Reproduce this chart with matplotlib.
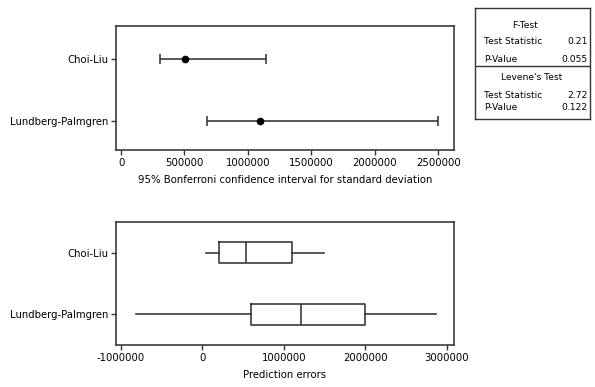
import matplotlib
matplotlib.use('Agg')
import matplotlib.pyplot as plt

# 数据
groups = ['Choi-Liu', 'Lundberg-Palmgren']

# 95% Bonferroni 置信区间 (标准差)
sd_point = [505000, 1095000]
sd_lower = [310000, 680000]
sd_upper = [1140000, 2495000]

# 箱线图统计量
box_low = [40000, -815000]
box_q1 = [205000, 595000]
box_med = [540000, 1215000]
box_q3 = [1105000, 2000000]
box_high = [1490000, 2865000]

# 检验结果
ftest_stat = '0.21'
ftest_p = '0.055'
levene_stat = '2.72'
levene_p = '0.122'

plt.rcParams['font.family'] = ['DejaVu Sans']
plt.rcParams['font.size'] = 7.3
line_col = '#333333'
lw = 1.15

W, H = 595, 387
fig = plt.figure(figsize=(W / 100, H / 100), dpi=100)


def px_axes(l, t, r, b):
    return fig.add_axes([l / W, 1 - b / H, (r - l) / W, (b - t) / H])


def style(ax):
    for s in ax.spines.values():
        s.set_linewidth(lw)
        s.set_color(line_col)
    ax.tick_params(axis='both', direction='out', length=3.5, width=1.0,
                   color=line_col, labelsize=7.3, pad=2)


# 上图：置信区间
ax1 = px_axes(116, 26, 454, 150)
ypos = [1, 2]
xerr = [[p - lo for p, lo in zip(sd_point, sd_lower)],
        [hi - p for p, hi in zip(sd_point, sd_upper)]]
ax1.errorbar(sd_point, ypos, xerr=xerr, fmt='o', color='black', ecolor=line_col,
             elinewidth=lw, capsize=3.5, capthick=lw, markersize=4.5)
ax1.set_ylim(2.47, 0.47)
ax1.set_xlim(-40000, 2625000)
ax1.set_yticks(ypos)
ax1.set_yticklabels(groups)
ax1.set_xticks([0, 500000, 1000000, 1500000, 2000000, 2500000])
ax1.set_xticklabels(['0', '500000', '1000000', '1500000', '2000000', '2500000'])
ax1.set_xlabel('95% Bonferroni confidence interval for standard deviation', labelpad=5)
style(ax1)

# 下图：箱线图
ax2 = px_axes(116, 222, 454, 345)
stats = []
for i in range(len(groups)):
    stats.append({'whislo': box_low[i], 'q1': box_q1[i], 'med': box_med[i],
                  'q3': box_q3[i], 'whishi': box_high[i], 'fliers': []})
ax2.bxp(stats, positions=ypos, orientation='horizontal', widths=0.34,
        showcaps=False, showfliers=False,
        boxprops=dict(color=line_col, linewidth=lw),
        whiskerprops=dict(color=line_col, linewidth=lw),
        medianprops=dict(color=line_col, linewidth=lw))
ax2.set_ylim(2.5, 0.5)
ax2.set_xlim(-1060000, 3090000)
ax2.set_yticks(ypos)
ax2.set_yticklabels(groups)
ax2.set_xticks([-1000000, 0, 1000000, 2000000, 3000000])
ax2.set_xticklabels(['-1000000', '0', '1000000', '2000000', '3000000'])
ax2.set_xlabel('Prediction errors', labelpad=5)
style(ax2)

# 右上角检验结果表
tx = px_axes(475, 8, 590, 119)
tx.set_xlim(0, 115)
tx.set_ylim(111, 0)
tx.set_xticks([])
tx.set_yticks([])
for s in tx.spines.values():
    s.set_linewidth(1.0)
    s.set_color(line_col)
fs = 6.6
tx.text(50, 17, 'F-Test', ha='center', va='center', fontsize=fs)
tx.text(9, 34, 'Test Statistic', ha='left', va='center', fontsize=fs)
tx.text(113, 34, ftest_stat, ha='right', va='center', fontsize=fs)
tx.text(9, 51, 'P-Value', ha='left', va='center', fontsize=fs)
tx.text(113, 51, ftest_p, ha='right', va='center', fontsize=fs)
tx.axhline(58, color=line_col, linewidth=1.0)
tx.text(57, 69, "Levene's Test", ha='center', va='center', fontsize=fs)
tx.text(9, 88, 'Test Statistic', ha='left', va='center', fontsize=fs)
tx.text(113, 88, levene_stat, ha='right', va='center', fontsize=fs)
tx.text(9, 100, 'P-Value', ha='left', va='center', fontsize=fs)
tx.text(113, 100, levene_p, ha='right', va='center', fontsize=fs)

fig.savefig('out.png', dpi=100)
